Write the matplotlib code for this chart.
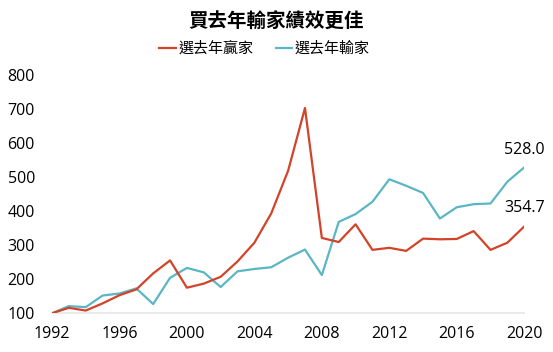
import matplotlib
matplotlib.use("Agg")
import matplotlib.pyplot as plt

plt.rcParams['font.family'] = ['Noto Sans CJK TC', 'DejaVu Sans']

# data
years = list(range(1992, 2021))
winners = [100, 116, 108, 129, 153, 170, 217, 255, 175, 187, 207, 252, 307, 393,
           518, 702, 321, 309, 361, 286, 292, 283, 319, 317, 318, 341, 286, 307, 354.7]
losers = [100, 121, 118, 152, 158, 173, 127, 204, 233, 220, 177, 223, 230, 235,
          263, 287, 212, 368, 391, 427, 493, 474, 453, 378, 411, 420, 422, 486, 528.0]
xticks = [1992, 1996, 2000, 2004, 2008, 2012, 2016, 2020]
yticks = [100, 200, 300, 400, 500, 600, 700, 800]

RED = '#d2432a'
CYAN = '#5bb6c4'
NUM_FONT = ['Open Sans', 'DejaVu Sans']

fig = plt.figure(figsize=(5.53, 3.52), dpi=100)
ax = fig.add_axes([0.094, 0.110, 0.854, 0.678])

ax.plot(years, winners, color=RED, linewidth=1.6, label='選去年贏家', zorder=3)
ax.plot(years, losers, color=CYAN, linewidth=1.6, label='選去年輸家', zorder=2)

ax.set_xlim(1992, 2020)
ax.set_ylim(100, 800)
ax.set_xticks(xticks)
ax.set_yticks(yticks)
ax.tick_params(length=0, labelsize=11.5)
ax.tick_params(axis='x', pad=9)
ax.tick_params(axis='y', pad=32)
for lab in ax.get_yticklabels():
    lab.set_horizontalalignment('left')
for lab in ax.get_xticklabels() + ax.get_yticklabels():
    lab.set_family(NUM_FONT)

for s in ['top', 'right', 'left']:
    ax.spines[s].set_visible(False)
ax.spines['bottom'].set_color('#e6e6e6')
ax.spines['bottom'].set_linewidth(1.2)

# end labels
ax.annotate(f'{losers[-1]:.1f}', (years[-1], losers[-1]), xytext=(0, 12.5),
            textcoords='offset points', ha='center', va='center',
            fontsize=11.5, family=NUM_FONT, annotation_clip=False)
ax.annotate(f'{winners[-1]:.1f}', (years[-1], winners[-1]), xytext=(0, 13.5),
            textcoords='offset points', ha='center', va='center',
            fontsize=11.5, family=NUM_FONT, annotation_clip=False)

fig.text(0.5, 0.937, '買去年輸家績效更佳', ha='center', va='center',
         fontsize=14, fontweight='bold')
fig.legend(loc='center', bbox_to_anchor=(0.478, 0.862), ncol=2, frameon=False,
           fontsize=10.8, handlelength=1.1, handletextpad=0.15, columnspacing=1.5)

fig.savefig('out.png', dpi=100)
